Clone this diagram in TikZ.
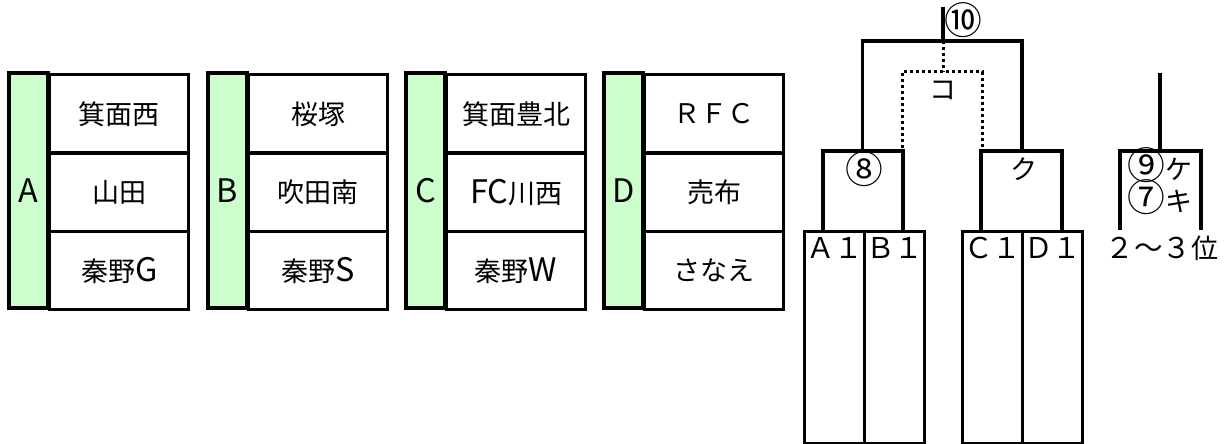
\documentclass[tikz,border=0pt]{standalone}
\usepackage{fontspec}
\newfontfamily\jpfont{Noto Sans CJK JP}
\newfontfamily\latinfont[Scale=1.2]{Noto Sans CJK JP}
\newfontfamily\seedfont[Scale=1.06]{Noto Sans CJK JP}
\newfontfamily\circfont[Scale=1.4]{Noto Sans CJK JP}
\newcommand\labelsize{\fontsize{27pt}{32pt}\selectfont}
\definecolor{groupgreen}{HTML}{CCFFCC}

\tikzset{%
  every cell/.style={
    rectangle,
    draw,
    line width=3.4pt,
    inner sep=0pt
  },
  cell group/.style={
    fill=groupgreen,
    minimum width=39pt,
    minimum height=235pt,
    font=\latinfont\labelsize
  },
  cell team/.style={
    minimum width=139pt,
    minimum height=78.33pt,
    anchor=north west
  },
  cell seed/.style={
    minimum width=60pt,
    minimum height=212pt,
    anchor=north west
  },
  bracket/.style={
    line width=3.4pt
  },
  bracket dotted/.style={
    line width=3pt,
    dash pattern=on 3pt off 3pt
  },
  round label/.style={
    inner sep=0pt
  },
  round label tight/.style={
    inner sep=0pt,
    text height=20pt,
    text depth=4pt
  },
}

\begin{document}
\begin{tikzpicture}[x=1pt, y=-1pt, font=\jpfont\labelsize]

\useasboundingbox (0,0) rectangle (1227,444);

% group tables
\foreach \g/\x/\teams in {A/9/{箕面西,山田,秦野{\latinfont G}}, B/208/{桜塚,吹田南,秦野{\latinfont S}},
    C/406/{箕面豊北,{\latinfont FC}川西,秦野{\latinfont W}}, D/604/{ＲＦＣ,売布,さなえ}} {
  \node [every cell, cell group] (group-\g) at (\x+19.5,190.5) {\g};
  \foreach \t [count=\y] in \teams
    \node [every cell, cell team] (team-\g-\y) at (\x+39,73+\y*78.33-78.33) {\t};
}

% seeds
\foreach \s/\x in {A1/803, B1/863, C1/961, D1/1021}
  \node [every cell, cell seed] (seed-\s) at (\x,230) {};

\foreach \s/\l in {A1/Ａ１, B1/Ｂ１, C1/Ｃ１, D1/Ｄ１}
  \node [round label, anchor=base, font=\seedfont\labelsize] (seed label-\s) at ([yshift=-28pt]seed-\s.north) {\l};

% bracket joints
\coordinate (semi-8-l) at (823,230);
\coordinate (semi-8) at (862.5,151);
\coordinate (semi-8-r) at (903,230);
\coordinate (semi-ku-l) at (981,230);
\coordinate (semi-ku) at (1022,151);
\coordinate (semi-ku-r) at (1062,230);
\coordinate (final) at (943,41);
\coordinate (playoff-l) at (902,148);
\coordinate (playoff) at (943,72);
\coordinate (playoff-r) at (982,148);
\coordinate (third-l) at (1120,230);
\coordinate (third) at (1160,151);
\coordinate (third-r) at (1201,230);

\draw [bracket] (semi-8-l) |- (semi-8) -| (semi-8-r);
\draw [bracket] (semi-ku-l) |- (semi-ku) -| (semi-ku-r);
\draw [bracket] (semi-8) |- (final) -| (semi-ku);
\draw [bracket] (final) -- ++(0,-34);
\draw [bracket dotted] (final) -- (playoff);
\draw [bracket dotted] (playoff-l) |- (playoff) -| (playoff-r);
\draw [bracket] (third-l) |- (third) -| (third-r);
\draw [bracket] (third) -- ++(0,-78);

% match labels
\node [round label] (label-final) at (963,20) {{\circfont ⑩}};
\node [round label] (label-playoff) at (943,90) {コ};
\node [round label] (label-8) at (864,169) {{\circfont ⑧}};
\node [round label] (label-ku) at (1024,169) {ク};
\node [round label tight] (label-9) at (1160,171) {{\circfont ⑨}ケ};
\node [round label tight] (label-7) at (1160,203) {{\circfont ⑦}キ};
\node [round label, font=\seedfont\labelsize] (label-third) at (1162,248) {２～３{\jpfont 位}};

\end{tikzpicture}
\end{document}
